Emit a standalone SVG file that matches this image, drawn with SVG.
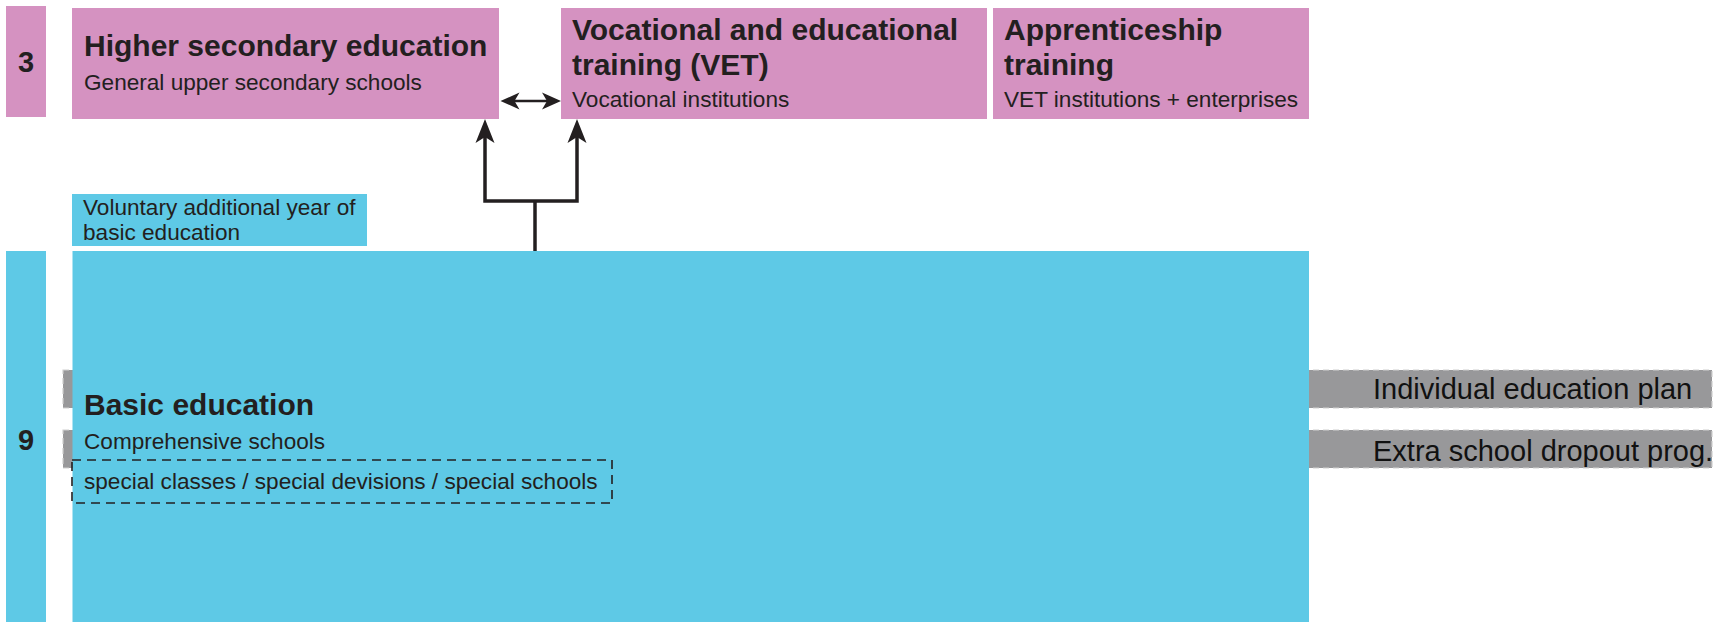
<svg xmlns="http://www.w3.org/2000/svg" width="1729" height="622" viewBox="0 0 1729 622">
<style>
.pink{fill:#d592c1}
.blue{fill:#5ec9e6}
.bar{fill:#98989a;stroke:#cfcfcf;stroke-width:1.2;stroke-dasharray:6 4}
text{font-family:"Liberation Sans",Arial,sans-serif;fill:#231f20}
.t{font-size:30px;font-weight:bold}
.s{font-size:22.6px}
.n{font-size:29px;font-weight:bold;text-anchor:middle}
.b{font-size:29px;fill:#111}
.conn{fill:none;stroke:#231f20}
</style>
<defs>
<marker id="ah" markerUnits="userSpaceOnUse" markerWidth="30" markerHeight="24" viewBox="0 -12 30 24" refX="18" refY="0" orient="auto-start-reverse">
<path d="M0,-9.5 L24,0 L0,9.5 L6,0 Z" fill="#231f20"/>
</marker>
<marker id="ahs" markerUnits="userSpaceOnUse" markerWidth="24" markerHeight="20" viewBox="0 -10 24 20" refX="14" refY="0" orient="auto-start-reverse">
<path d="M0,-8.5 L19,0 L0,8.5 L5,0 Z" fill="#231f20"/>
</marker>
</defs>
<g id="bar-individual">
<rect class="bar" x="63" y="370" width="1649" height="38"/>
<text class="b" x="1373" y="399">Individual education plan</text>
</g>
<g id="bar-dropout">
<rect class="bar" x="63" y="430" width="1649" height="38"/>
<text class="b" x="1373" y="461">Extra school dropout prog.</text>
</g>
<g id="years-3">
<rect class="pink" x="6" y="6" width="40" height="111"/>
<text class="n" x="26" y="72">3</text>
</g>
<g id="higher-secondary">
<rect class="pink" x="72" y="8" width="427" height="111"/>
<text class="t" x="84" y="56">Higher secondary education</text>
<text class="s" x="84" y="90">General upper secondary schools</text>
</g>
<g id="vet">
<rect class="pink" x="561" y="8" width="426" height="111"/>
<text class="t" x="572" y="40">Vocational and educational</text>
<text class="t" x="572" y="75">training (VET)</text>
<text class="s" x="572" y="107">Vocational institutions</text>
</g>
<g id="apprenticeship">
<rect class="pink" x="993" y="8" width="316" height="111"/>
<text class="t" x="1004" y="40">Apprenticeship</text>
<text class="t" x="1004" y="75">training</text>
<text class="s" x="1004" y="107">VET institutions + enterprises</text>
</g>
<g id="voluntary-year">
<rect class="blue" x="72" y="194" width="295" height="52"/>
<text class="s" x="83" y="215">Voluntary additional year of</text>
<text class="s" x="83" y="240">basic education</text>
</g>
<g id="years-9">
<rect class="blue" x="6" y="251" width="40" height="371"/>
<text class="n" x="26" y="450">9</text>
</g>
<g id="basic-education">
<rect class="blue" x="72.5" y="251" width="1236.5" height="371"/>
<text class="t" x="84" y="415">Basic education</text>
<text class="s" x="84" y="449">Comprehensive schools</text>
<rect x="72" y="460" width="540" height="43" fill="none" stroke="#231f20" stroke-width="1.6" stroke-dasharray="9 6"/>
<text class="s" x="84" y="489">special classes / special devisions / special schools</text>
</g>
<g id="connectors">
<path class="conn" stroke-width="3.5" d="M485,125 V201 H577 V125" marker-start="url(#ah)" marker-end="url(#ah)"/>
<path class="conn" stroke-width="3.5" d="M535,201 V251"/>
<path class="conn" stroke-width="2.5" d="M505.5,101 H556" marker-start="url(#ahs)" marker-end="url(#ahs)"/>
</g>
</svg>
